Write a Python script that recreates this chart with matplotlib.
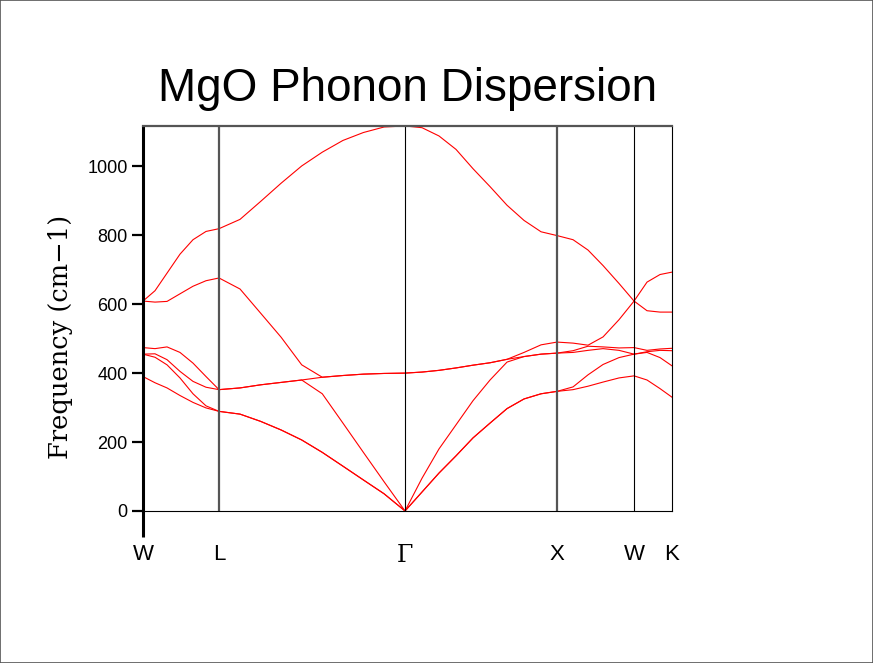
import matplotlib
matplotlib.use("Agg")
import matplotlib.pyplot as plt
from matplotlib.patches import Rectangle

# path coordinate along W-L-Gamma-X-W-K (normalised)
kdist = [0.0, 0.0227, 0.0454, 0.0699, 0.0945, 0.1191, 0.1437,
         0.1834, 0.2223, 0.2611, 0.3000, 0.3389, 0.3779, 0.4166, 0.4556, 0.4953,
         0.5274, 0.5595, 0.5917, 0.6238, 0.6560, 0.6881, 0.7202, 0.7524, 0.7826,
         0.8129, 0.8412, 0.8696, 0.8998, 0.9282,
         0.9527, 0.9773, 1.0]

# six phonon bands (cm-1), sorted by frequency at each point
band1 = [390, 372, 357, 335, 315, 299, 289,
         281, 260, 235, 206, 170, 130, 90, 50, 0,
         55, 110, 160, 212, 255, 297, 325, 340, 347,
         352, 362, 374, 386, 392,
         380, 355, 330]
band2 = [455, 446, 424, 386, 340, 305, 289,
         281, 260, 235, 206, 170, 130, 90, 50, 0,
         55, 110, 160, 212, 255, 297, 325, 340, 347,
         360, 395, 425, 445, 455,
         460, 445, 421]
band3 = [455, 456, 439, 405, 376, 359, 352,
         357, 366, 373, 380, 340, 255, 170, 85, 0,
         95, 180, 250, 320, 380, 432, 448, 455, 458,
         460, 466, 471, 466, 455,
         462, 466, 465]
band4 = [474, 471, 476, 460, 429, 390, 352,
         357, 366, 373, 380, 388, 393, 397, 399, 400,
         403, 408, 415, 423, 430, 440, 448, 455, 458,
         465, 478, 476, 473, 474,
         466, 470, 472]
band5 = [609, 606, 608, 630, 652, 668, 676,
         644, 574, 504, 424, 388, 393, 397, 399, 400,
         403, 408, 415, 423, 430, 440, 460, 482, 490,
         487, 481, 505, 555, 609,
         581, 577, 577]
band6 = [609, 639, 690, 745, 787, 811, 819,
         846, 898, 951, 1001, 1041, 1075, 1098, 1114, 1117,
         1112, 1088, 1049, 993, 941, 887, 843, 810, 799,
         787, 757, 712, 660, 609,
         664, 686, 693]

sym_pos = [0.0, 0.1437, 0.4953, 0.7826, 0.9282, 1.0]
sym_labels = ["W", "L", "\u0393", "X", "W", "K"]

fig = plt.figure(figsize=(8.73, 6.63), dpi=100)
ax = fig.add_axes([0.1638, 0.2293, 0.606, 0.5807])

for band in [band1, band2, band3, band4, band5, band6]:
    ax.plot(kdist, band, color="red", lw=0.8)

# vertical lines at the high-symmetry points
for pos, lab in zip(sym_pos[1:-1], sym_labels[1:-1]):
    if lab in ("L", "X"):
        ax.axvline(pos, color="#555555", lw=1.6)
    else:
        ax.axvline(pos, color="black", lw=0.8)

ax.set_xlim(0, 1.0)
ax.set_ylim(0, max(band6))

ax.spines["top"].set_color("#555555")
ax.spines["top"].set_linewidth(1.6)
ax.spines["bottom"].set_linewidth(0.8)
ax.spines["right"].set_linewidth(0.8)
ax.spines["left"].set_visible(False)
ax.plot([0, 0], [-0.068, 1.0], transform=ax.transAxes, color="black",
        lw=2.2, clip_on=False, solid_capstyle="butt")

ax.set_yticks([0, 200, 400, 600, 800, 1000])
ax.tick_params(axis="y", direction="out", length=8, width=1.6, labelsize=13, pad=3)
for t in ax.get_yticklabels():
    t.set_family("Liberation Sans")

ax.set_xticks(sym_pos)
ax.set_xticklabels(sym_labels)
ax.tick_params(axis="x", length=0, labelsize=16, pad=24)
for t in ax.get_xticklabels():
    if t.get_text() == "\u0393":
        t.set_family("DejaVu Serif")
        t.set_fontsize(17)
    else:
        t.set_family("Liberation Sans")

ax.set_ylabel("Frequency (cm\u22121)", family="DejaVu Serif", fontsize=18.5)
ax.yaxis.set_label_coords(-0.133, 0.452)

ax.set_title("MgO Phonon Dispersion", family="Liberation Sans", fontsize=33, pad=18)

fig.patches.append(Rectangle((0, 0), 1, 1, transform=fig.transFigure, fill=False,
                             edgecolor="#555555", lw=1.2))

fig.savefig("out.png", dpi=100)
